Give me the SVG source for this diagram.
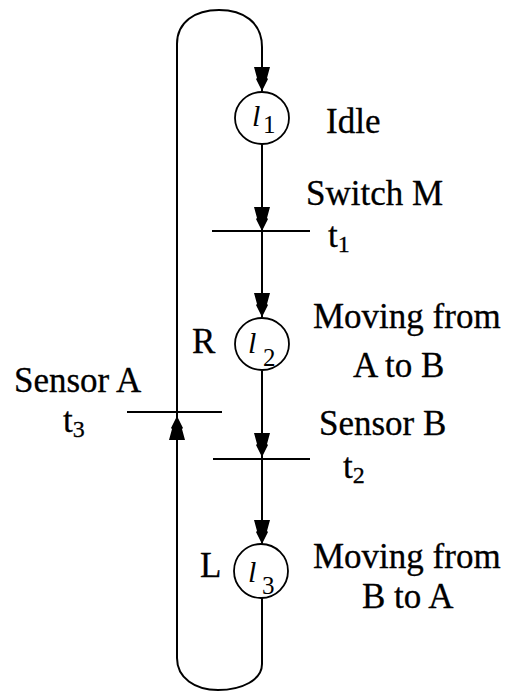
<svg xmlns="http://www.w3.org/2000/svg" width="509" height="691" viewBox="0 0 509 691">
<style>
.ln{fill:none;stroke:#000;stroke-width:2}
.pl{fill:#fff;stroke:#000;stroke-width:1.8}
.tr{stroke:#000;stroke-width:2}
.tx{font-family:"Liberation Serif","Times New Roman",serif;font-size:35px;fill:#000;stroke:#000;stroke-width:0.3}
.sb{font-size:24px}
.pv{font-family:"Liberation Serif","Times New Roman",serif;font-style:italic;font-size:30px;fill:#000}
.pn{font-family:"Liberation Serif","Times New Roman",serif;font-size:25px;fill:#000}
</style>
<defs>
<path id="ah" d="M-8,-24 L8,-24 L5,-13 L6,-12 L0,0 L-6,-12 L-5,-13 Z" fill="#000"/>
</defs>
<rect width="509" height="691" fill="#fff"/>
<g id="connectors">
<path class="ln" d="M262,598 L262,664 C262,680 242,690 218,690 C195,690 177,678 177,658 L177,412"/>
<path class="ln" d="M177,412 L177,44 C177,22 195,10 219,10 C243,10 262,22 262,47 L262,91"/>
<path class="ln" d="M262,144 L262,231"/>
<path class="ln" d="M262,231 L262,317"/>
<path class="ln" d="M262,371 L262,459"/>
<path class="ln" d="M262,459 L262,544"/>
<use href="#ah" x="262" y="91"/>
<use href="#ah" x="262" y="231"/>
<use href="#ah" x="262" y="317"/>
<use href="#ah" x="262" y="457"/>
<use href="#ah" x="262" y="544"/>
<use href="#ah" transform="translate(177,416) rotate(180)"/>
</g>
<g id="l1">
<ellipse class="pl" cx="262" cy="118" rx="27" ry="26"/>
<text class="pv" x="252" y="126">l</text>
<text class="pn" x="263" y="133">1</text>
<text class="tx" x="326" y="133">Idle</text>
</g>
<g id="t1">
<line class="tr" x1="212" y1="231" x2="310" y2="231"/>
<text class="tx" x="306" y="205">Switch M</text>
<text class="tx" x="328" y="247">t<tspan class="sb" dy="5">1</tspan></text>
</g>
<g id="l2">
<ellipse class="pl" cx="262" cy="344" rx="27" ry="26"/>
<text class="pv" x="248" y="353">l</text>
<text class="pn" x="263" y="366">2</text>
<text class="tx" x="192" y="353">R</text>
<text class="tx" x="313" y="328">Moving from</text>
<text class="tx" x="353" y="377">A to B</text>
</g>
<g id="t3">
<line class="tr" x1="127" y1="412" x2="222" y2="412"/>
<text class="tx" x="14" y="392">Sensor A</text>
<text class="tx" x="63" y="432">t<tspan class="sb" dy="5">3</tspan></text>
</g>
<g id="t2">
<line class="tr" x1="213" y1="459" x2="310" y2="459"/>
<text class="tx" x="319" y="435">Sensor B</text>
<text class="tx" x="343" y="478">t<tspan class="sb" dy="5">2</tspan></text>
</g>
<g id="l3">
<ellipse class="pl" cx="261" cy="571" rx="27" ry="27"/>
<text class="pv" x="248" y="582">l</text>
<text class="pn" x="262" y="594">3</text>
<text class="tx" x="200" y="577">L</text>
<text class="tx" x="313" y="568">Moving from</text>
<text class="tx" x="362" y="608">B to A</text>
</g>
</svg>
